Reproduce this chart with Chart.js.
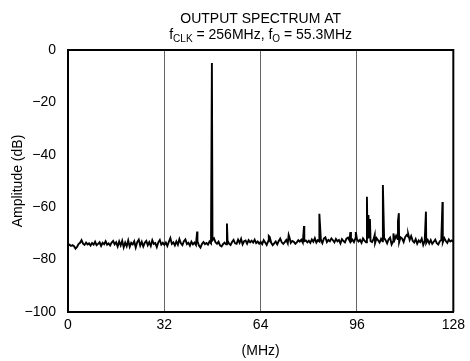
<!DOCTYPE html>
<html>
<head>
<meta charset="utf-8">
<script src="https://cdn.jsdelivr.net/npm/chart.js@4/dist/chart.umd.min.js"></script>
<style>
  html, body { margin: 0; padding: 0; background: #fff; }
  canvas { display: block; }
</style>
</head>
<body>
<canvas id="spectrum" width="470" height="361"></canvas>
<script>
// noise floor, one reading every 0.5 MHz from 0 to 128 MHz (dB)
const floorStep = 0.5;
const floorAmps = [
  -74.6,-74.3,-74.8,-74.5,-74.9,-75.8,-75.2,-74.1,-73.6,-72.6,-73.9,-74.4,-73.5,-74.2,-73.8,-74.6,
  -73.7,-74.3,-73.2,-74.5,-74.0,-73.4,-74.8,-73.6,-74.1,-73.0,-74.3,-73.8,-74.6,-73.5,-72.9,-74.2,
  -73.4,-75.0,-73.1,-74.6,-72.8,-75.3,-73.5,-74.9,-72.7,-75.1,-73.6,-74.2,-73.0,-75.4,-73.3,-72.4,
  -74.7,-73.2,-75.0,-73.6,-72.9,-74.5,-73.3,-74.8,-72.6,-74.0,-73.7,-75.2,-73.4,-72.5,-74.3,-73.6,
  -74.4,-73.5,-74.8,-73.2,-71.8,-74.0,-73.4,-74.6,-73.1,-74.3,-72.2,-73.8,-74.5,-73.0,-72.3,-74.1,
  -73.6,-74.7,-73.2,-74.2,-73.5,-74.4,-73.0,-74.6,-75.4,-74.0,-73.3,-74.1,-73.7,-74.3,-73.1,-73.8,
  -72.6,-71.9,-73.4,-74.0,-73.2,-74.6,-75.0,-74.1,-73.5,-74.2,-72.8,-73.9,-74.4,-73.3,-72.5,-73.8,
  -74.0,-72.4,-73.6,-72.1,-74.2,-73.0,-72.7,-73.9,-72.6,-73.4,-72.8,-73.5,-72.4,-73.7,-73.1,-73.9,
  -73.2,-74.1,-72.6,-73.5,-74.4,-73.0,-71.4,-73.6,-74.5,-73.8,-73.1,-74.2,-72.9,-72.0,-73.4,-74.0,
  -73.3,-72.5,-73.8,-71.3,-73.6,-72.9,-73.2,-74.0,-73.4,-72.6,-73.1,-72.4,-73.5,-73.0,-72.7,-73.4,
  -72.8,-73.6,-72.3,-73.2,-71.8,-73.5,-72.6,-73.1,-72.4,-73.7,-72.0,-71.5,-73.3,-72.5,-73.0,-71.9,
  -72.6,-73.4,-72.1,-73.0,-72.5,-73.8,-72.2,-72.9,-73.4,-72.0,-71.6,-72.7,-73.1,-72.4,-73.3,-71.8,
  -72.3,-73.1,-72.5,-73.6,-71.9,-72.8,-73.4,-72.0,-71.5,-72.9,-73.3,-72.2,-73.7,-71.8,-72.6,-73.5,
  -72.1,-73.0,-71.7,-72.6,-73.8,-72.3,-71.6,-74.2,-73.1,-72.4,-70.9,-72.2,-73.4,-71.5,-72.0,-73.3,
  -71.4,-70.6,-71.2,-72.5,-71.0,-72.8,-73.5,-72.2,-73.9,-72.7,-73.3,-72.0,-74.4,-72.8,-73.6,-72.5,
  -73.8,-72.6,-74.0,-73.2,-72.4,-73.7,-74.2,-73.0,-72.5,-73.4,-71.8,-72.9,-73.6,-72.3,-73.1,-72.7,
  -73.2
];

// spurs (MHz, dB)
const spurFreqs = [42.9, 47.8, 52.8, 66.7, 73.3, 78.4, 83.5, 93.8, 95.6, 99.3, 99.8, 100.3,
                   101.9, 104.6, 108.1, 109.6, 109.9, 113.0, 118.9, 124.4];
const spurAmps  = [-69.3, -5.0, -66.2, -71.0, -70.6, -67.2, -62.5, -69.5, -69.5, -56.0, -63.0, -64.5,
                   -70.5, -51.5, -70.0, -65.5, -62.3, -70.2, -61.7, -58.0];

const xTicks = [0, 32, 64, 96, 128];
const yTicks = [0, -20, -40, -60, -80, -100];

const fontFamily = '"Liberation Sans", Arial, Helvetica, sans-serif';
Chart.defaults.font.family = fontFamily;
Chart.defaults.color = '#000';

// merge floor and spurs in frequency order
const points = floorAmps.map((a, i) => ({ x: i * floorStep, y: a }))
  .concat(spurFreqs.map((f, i) => ({ x: f, y: spurAmps[i] })))
  .sort((p, q) => p.x - q.x);

// top and right edges of the plot box
const framePlugin = {
  id: 'frame',
  beforeDatasetsDraw(chart) {
    const { ctx, chartArea: a } = chart;
    ctx.save();
    ctx.strokeStyle = '#000';
    ctx.lineWidth = 2;
    ctx.beginPath();
    ctx.moveTo(a.left, a.top);
    ctx.lineTo(a.right, a.top);
    ctx.lineTo(a.right, a.bottom);
    ctx.stroke();
    ctx.restore();
  }
};

// two-line title with subscripts, centred over the plot
const titlePlugin = {
  id: 'specTitle',
  afterDraw(chart) {
    const ctx = chart.ctx;
    const cx = (chart.chartArea.left + chart.chartArea.right) / 2;
    const big = '14px ' + fontFamily;
    const small = '10px ' + fontFamily;
    ctx.save();
    ctx.fillStyle = '#000';
    ctx.textBaseline = 'alphabetic';
    ctx.textAlign = 'left';
    ctx.font = big;
    const l1 = 'OUTPUT SPECTRUM AT';
    ctx.fillText(l1, cx - ctx.measureText(l1).width / 2, 23);

    const runs = [
      ['f', big, 0], ['CLK', small, 3], [' = 256MHz, f', big, 0], ['O', small, 3], [' = 55.3MHz', big, 0]
    ];
    let w = 0;
    runs.forEach(r => { ctx.font = r[1]; w += ctx.measureText(r[0]).width; });
    let x = cx - w / 2;
    runs.forEach(r => {
      ctx.font = r[1];
      ctx.fillText(r[0], x, 39 + r[2]);
      x += ctx.measureText(r[0]).width;
    });
    ctx.restore();
  }
};

new Chart(document.getElementById('spectrum'), {
  type: 'line',
  data: {
    datasets: [{
      data: points,
      borderColor: '#000',
      borderWidth: 1.9,
      pointRadius: 0,
      tension: 0,
      fill: false
    }]
  },
  options: {
    responsive: false,
    animation: false,
    layout: { padding: { top: 50, right: 13, left: 0, bottom: 0 } },
    plugins: {
      legend: { display: false },
      tooltip: { enabled: false }
    },
    scales: {
      x: {
        type: 'linear',
        min: 0,
        max: 128,
        afterBuildTicks: scale => { scale.ticks = xTicks.map(v => ({ value: v })); },
        afterFit: scale => { scale.height = 49; },
        ticks: { font: { size: 14 }, padding: 5, maxRotation: 0 },
        grid: {
          drawTicks: false,
          color: ctx => (ctx.tick.value === 0 || ctx.tick.value === 128) ? 'rgba(0,0,0,0)' : '#666',
          lineWidth: 1
        },
        border: { color: '#000', width: 2 },
        title: { display: true, text: '(MHz)', font: { size: 14 }, padding: { top: 0, bottom: 1 } }
      },
      y: {
        min: -100,
        max: 0,
        afterBuildTicks: scale => { scale.ticks = yTicks.map(v => ({ value: v })); },
        afterFit: scale => { scale.width = 68; },
        ticks: {
          font: { size: 14 },
          padding: 12,
          callback: v => v < 0 ? '\u2212' + Math.abs(v) : String(v)
        },
        grid: { display: false, drawTicks: false },
        border: { color: '#000', width: 2 },
        title: { display: true, text: 'Amplitude (dB)', font: { size: 14 }, padding: { top: 10, bottom: 0 } }
      }
    }
  },
  plugins: [framePlugin, titlePlugin]
});
</script>
</body>
</html>
